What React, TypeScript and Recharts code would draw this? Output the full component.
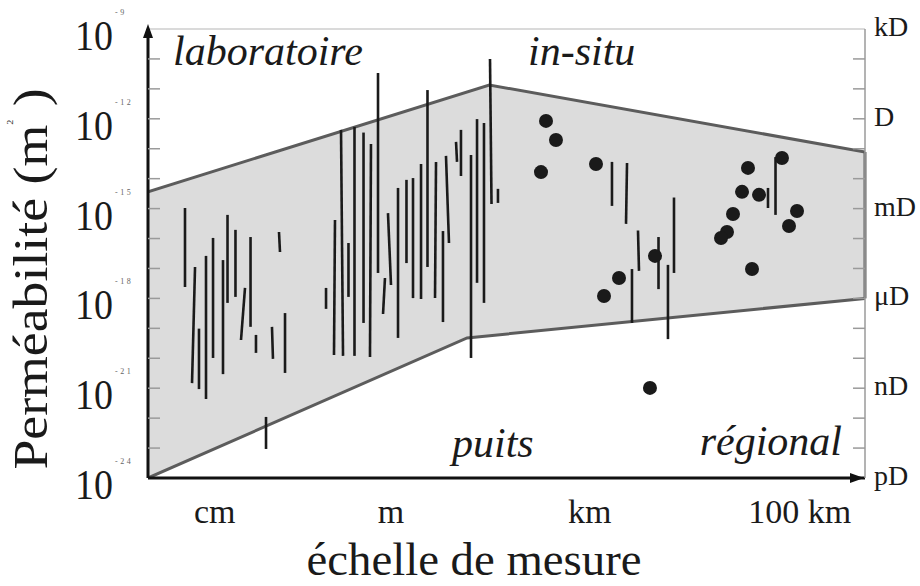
import { ComposedChart, Area, Scatter, XAxis, YAxis, ReferenceLine, ReferenceDot } from 'recharts'

const W = 920
const H = 586
const SERIF = '"Liberation Serif", "Times New Roman", serif'
const INK = '#1a1a1a'
const EDGE = '#5c5c5c'
const BAND = '#dcdcdc'
const TICK = '#9a9a9a'

// log10 de la perméabilité (m²), une graduation par décade
const DECADES = [-24, -23, -22, -21, -20, -19, -18, -17, -16, -15, -14, -13, -12, -11, -10, -9]
const MAJOR = [-24, -21, -18, -15, -12, -9]
const DARCY = ['pD', 'nD', 'μD', 'mD', 'D', 'kD']

// échelle de mesure (position schématique 0..100)
const SCALE_POS = [9.3, 33.9, 61.6, 90.9]
const SCALE_LABELS = ['cm', 'm', 'km', '100 km']

// enveloppe grise
const UPPER_X = [0, 47.6, 100]
const UPPER_K = [-14.44, -10.87, -13.11]
const LOWER_X = [0, 44.5, 100]
const LOWER_K = [-24, -19.32, -18.0]

// [x bas, x haut, k bas, k haut]
const LAB_RANGES = [
  [5.16, 5.16, -17.62, -14.98],
  [6.14, 6.56, -20.83, -16.95],
  [7.11, 7.11, -21.03, -19.01],
  [8.09, 8.09, -21.36, -16.58],
  [9.07, 9.07, -19.99, -15.98],
  [10.46, 10.46, -20.53, -16.72],
  [11.09, 11.09, -18.15, -15.21],
  [12.2, 12.2, -17.95, -15.71],
  [12.97, 13.53, -19.39, -17.65],
  [14.3, 14.3, -18.95, -15.95],
  [15.06, 15.06, -19.82, -19.22],
  [16.46, 16.46, -23.03, -21.96],
  [17.43, 17.29, -20.02, -18.95],
  [18.41, 18.27, -16.45, -15.78],
  [19.11, 19.11, -20.49, -18.49],
]

const WELL_RANGES = [
  [24.83, 24.83, -18.35, -17.65],
  [25.94, 26.08, -19.89, -15.38],
  [27.2, 26.92, -19.92, -12.37],
  [27.96, 27.96, -17.95, -16.15],
  [28.8, 28.8, -19.92, -12.27],
  [30.06, 30.06, -18.82, -12.46],
  [30.96, 31.1, -19.96, -12.84],
  [32.08, 32.08, -17.15, -10.47],
  [32.78, 33.05, -18.52, -17.32],
  [33.89, 33.47, -17.55, -15.15],
  [34.87, 34.87, -19.32, -14.31],
  [36.05, 36.05, -16.82, -14.04],
  [36.96, 36.96, -17.99, -13.98],
  [38.08, 38.08, -18.02, -13.51],
  [38.98, 38.98, -16.95, -11.04],
  [40.03, 40.17, -17.99, -13.44],
  [41.14, 41.14, -18.79, -15.75],
  [41.98, 41.56, -16.15, -13.24],
  [43.1, 42.96, -13.44, -12.77],
  [43.65, 43.65, -13.91, -12.37],
  [45.05, 45.05, -19.99, -13.21],
  [45.89, 45.89, -17.48, -12.01],
  [46.86, 46.86, -18.15, -12.14],
  [47.91, 47.7, -14.85, -10.0],
  [48.81, 48.81, -14.81, -14.34],
]

const INSITU_RANGES = [
  [64.71, 64.71, -14.91, -13.44],
  [66.67, 66.81, -15.51, -13.48],
  [68.48, 68.34, -17.08, -15.73],
  [71.2, 71.2, -17.69, -15.95],
  [73.36, 73.36, -17.15, -14.63],
  [67.5, 67.5, -18.82, -17.02],
  [72.52, 72.52, -19.36, -16.88],
  [86.47, 86.47, -14.98, -14.31],
  [87.52, 87.52, -15.21, -13.28],
]

// [x, k]
const INSITU_DOTS = [
  [55.51, -12.07], [56.9, -12.71], [54.81, -13.78], [62.48, -13.51],
  [65.69, -17.32], [63.6, -17.92], [70.71, -16.58], [70.01, -20.99],
  [88.42, -13.31], [83.68, -13.64], [82.85, -14.44], [85.22, -14.54],
  [81.59, -15.18], [80.75, -15.78], [79.92, -15.98], [90.52, -15.08],
  [89.4, -15.58], [84.24, -17.02],
]

// [texte, x, k, ancrage]
const NOTES: [string, number, number, string][] = [
  ['laboratoire', 3.49, -10.2, 'start'],
  ['in-situ', 53.0, -10.2, 'start'],
  ['puits', 42.4, -23.3, 'start'],
  ['régional', 96.8, -23.23, 'end'],
]

const upper = UPPER_X.map((x, i) => ({ x, k: UPPER_K[i] }))
const lower = LOWER_X.map((x, i) => ({ x, k: LOWER_K[i] }))
const dots = INSITU_DOTS.map(([x, k]) => ({ x, k }))
const ranges = [...LAB_RANGES, ...WELL_RANGES, ...INSITU_RANGES]

function PermTick({ x, y, payload }: any) {
  const v = payload.value
  const major = MAJOR.includes(v)
  return (
    <g>
      {v > -24 && v < -9 && <line x1={x} x2={x + 12} y1={y} y2={y} stroke={TICK} strokeWidth={1.5} />}
      {major && (
        <text x={x - 35} y={y + 21} textAnchor="end" fontFamily={SERIF} fontSize={42}
          textLength={38} lengthAdjust="spacingAndGlyphs" fill={INK}>10</text>
      )}
      {major && (
        <text x={x - 33} y={y - 14} fontFamily={SERIF} fontSize={8} letterSpacing={2.5} fill="#666">{v}</text>
      )}
    </g>
  )
}

function DarcyTick({ x, y, payload }: any) {
  const v = payload.value
  const i = MAJOR.indexOf(v)
  return (
    <g>
      {v > -24 && v < -9 && <line x1={x} x2={x - 12} y1={y} y2={y} stroke={TICK} strokeWidth={1.5} />}
      {i >= 0 && (
        <text x={x + 9} y={y + 7} fontFamily={SERIF} fontSize={28} fill={INK}>{DARCY[i]}</text>
      )}
    </g>
  )
}

function ScaleTick({ x, y, payload }: any) {
  return (
    <text x={x} y={y + 45} textAnchor="middle" fontFamily={SERIF} fontSize={34} fill={INK}>
      {SCALE_LABELS[SCALE_POS.indexOf(payload.value)]}
    </text>
  )
}

const xTitle = () => (
  <text x={474} y={575} textAnchor="middle" fontFamily={SERIF} fontSize={47}
    textLength={335} lengthAdjust="spacingAndGlyphs" fill={INK}>échelle de mesure</text>
)

const yTitle = () => (
  <text transform="translate(47,279) rotate(-90) scale(1.12,1)" textAnchor="middle"
    fontFamily={SERIF} fontSize={48} fill={INK}>
    Perméabilité (m<tspan fontSize={9} dy={-34}>2</tspan><tspan dy={34}> )</tspan>
  </text>
)

const upArrow = (p: any) => (
  <path d={`M${p.cx},${p.cy - 5} L${p.cx - 5},${p.cy + 9} L${p.cx + 5},${p.cy + 9} Z`} fill="#111" />
)
const rightArrow = (p: any) => (
  <path d={`M${p.cx - 1},${p.cy} L${p.cx - 15},${p.cy - 5} L${p.cx - 15},${p.cy + 5} Z`} fill="#111" />
)

export default function App() {
  return (
    <div style={{ position: 'absolute', left: 0, top: 0, width: W, height: H, background: '#fff' }}>
      <ComposedChart width={W} height={H} margin={{ top: 29, right: 0, bottom: 0, left: 0 }}>
        <XAxis type="number" dataKey="x" domain={[0, 100]} ticks={SCALE_POS} interval={0} allowDataOverflow
          height={108} tickSize={0} tickMargin={0} tickLine={false} tick={<ScaleTick />}
          axisLine={{ stroke: '#111', strokeWidth: 3 }} label={xTitle} />
        <YAxis type="number" dataKey="k" domain={[-24, -9]} ticks={DECADES} interval={0} allowDataOverflow
          width={148} tickSize={0} tickMargin={0} tickLine={false} tick={<PermTick />}
          axisLine={{ stroke: '#111', strokeWidth: 3 }} label={yTitle} />
        <YAxis yAxisId="d" orientation="right" type="number" domain={[-24, -9]} ticks={DECADES} interval={0}
          allowDataOverflow width={55} tickSize={0} tickMargin={0} tickLine={false} tick={<DarcyTick />}
          axisLine={{ stroke: TICK, strokeWidth: 1.5 }} />

        <Area data={upper} dataKey="k" type="linear" baseValue={-24} fill={BAND} fillOpacity={1}
          stroke={EDGE} strokeWidth={3} dot={false} activeDot={false} isAnimationActive={false} />
        <Area data={lower} dataKey="k" type="linear" baseValue={-24} fill="#fff" fillOpacity={1}
          stroke={EDGE} strokeWidth={3} dot={false} activeDot={false} isAnimationActive={false} />
        <ReferenceLine segment={[{ x: 100, y: LOWER_K[2] }, { x: 100, y: UPPER_K[2] }]}
          stroke={EDGE} strokeWidth={3} ifOverflow="visible" />
        <ReferenceLine y={-9} stroke="#b5b5b5" strokeWidth={1} />

        {ranges.map((r, i) => (
          <ReferenceLine key={i} segment={[{ x: r[0], y: r[2] }, { x: r[1], y: r[3] }]}
            stroke={INK} strokeWidth={2.6} ifOverflow="visible" />
        ))}

        <Scatter data={dots} isAnimationActive={false}
          shape={(p: any) => <circle cx={p.cx} cy={p.cy} r={7} fill={INK} />} />

        {NOTES.map(([t, x, k, anchor]) => (
          <ReferenceDot key={t} x={x} y={k} r={0} ifOverflow="visible"
            shape={(p: any) => (
              <text x={p.cx} y={p.cy} textAnchor={anchor} fontFamily={SERIF} fontStyle="italic"
                fontSize={42} fill={INK}>{t}</text>
            )} />
        ))}

        <ReferenceDot x={0} y={-9} r={0} ifOverflow="visible" shape={upArrow} />
        <ReferenceDot x={100} y={-24} r={0} ifOverflow="visible" shape={rightArrow} />
      </ComposedChart>
    </div>
  )
}
